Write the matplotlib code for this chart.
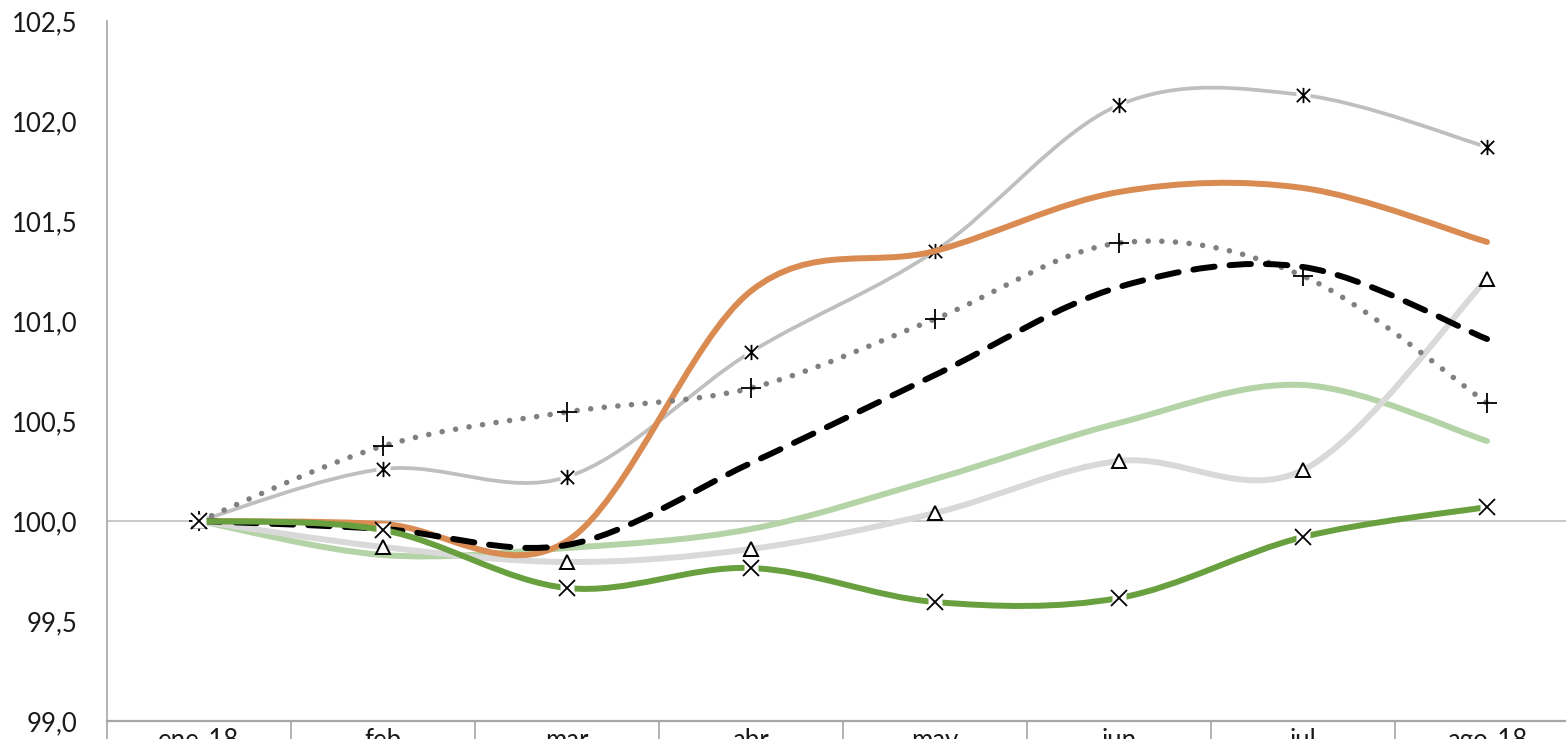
import numpy as np
import matplotlib.pyplot as plt
from matplotlib.path import Path
from matplotlib.patches import PathPatch

plt.rcParams['font.family'] = ['Lato', 'DejaVu Sans']

# datos (indice base ene-18 = 100)
meses = ['ene-18', 'feb', 'mar', 'abr', 'may', 'jun', 'jul', 'ago-18']
serie_asterisco = [100.0, 100.26, 100.22, 100.845, 101.35, 102.08, 102.13, 101.87]
serie_naranja = [100.0, 99.985, 99.9, 101.15, 101.35, 101.645, 101.665, 101.395]
serie_punteada = [100.0, 100.375, 100.545, 100.665, 101.01, 101.39, 101.225, 100.59]
serie_discontinua = [100.0, 99.96, 99.88, 100.29, 100.73, 101.17, 101.27, 100.91]
serie_verde_claro = [100.0, 99.83, 99.865, 99.96, 100.21, 100.49, 100.68, 100.4]
serie_triangulo = [100.0, 99.87, 99.795, 99.86, 100.04, 100.3, 100.255, 101.21]
serie_verde = [100.0, 99.955, 99.665, 99.765, 99.595, 99.615, 99.92, 100.07]

yticks = [99.0, 99.5, 100.0, 100.5, 101.0, 101.5, 102.0, 102.5]
ytick_labels = [f'{v:.1f}'.replace('.', ',') for v in yticks]


def curva(ax, valores, **kw):
    # curva suavizada tipo Excel (Bezier por Catmull-Rom)
    pts = np.column_stack([np.arange(len(valores), dtype=float), np.asarray(valores, dtype=float)])
    n = len(pts)
    verts = [pts[0]]
    codes = [Path.MOVETO]
    for i in range(n - 1):
        p0 = pts[max(i - 1, 0)]
        p1 = pts[i]
        p2 = pts[i + 1]
        p3 = pts[min(i + 2, n - 1)]
        verts += [p1 + (p2 - p0) / 6, p2 - (p3 - p1) / 6, p2]
        codes += [Path.CURVE4] * 3
    ax.add_patch(PathPatch(Path(verts, codes), fill=False, capstyle='round', joinstyle='round', **kw))


def marcas(ax, valores, marker, z, fondo=True, **kw):
    x = np.arange(len(valores))
    if fondo:
        ax.plot(x, valores, ls='none', marker='s', ms=10, mfc='white', mec='none', zorder=z)
    ax.plot(x, valores, ls='none', marker=marker, mec='black', zorder=z + 0.1, **kw)


asterisco = Path([(-1, -1), (1, 1), (-1, 1), (1, -1), (0, -1.15), (0, 1.15)],
                 [Path.MOVETO, Path.LINETO, Path.MOVETO, Path.LINETO, Path.MOVETO, Path.LINETO])

fig = plt.figure(figsize=(15.66, 7.39), dpi=100)
ax = fig.add_axes([107 / 1566, 18 / 739, 1472 / 1566, 700 / 739])

ax.axhline(100, color='#BFBFBF', lw=1.2, zorder=1)

curva(ax, serie_verde_claro, edgecolor='#B4D3A6', lw=4.3, zorder=2)

curva(ax, serie_triangulo, edgecolor='#D9D9D9', lw=4.3, zorder=3)
marcas(ax, serie_triangulo, '^', 3.5, fondo=False, ms=10, mfc='white', mew=1.4)

curva(ax, serie_asterisco, edgecolor='#BFBFBF', lw=2.7, zorder=4)
marcas(ax, serie_asterisco, asterisco, 4.5, ms=11, mfc='none', mew=1.3)

curva(ax, serie_naranja, edgecolor='#D98B52', lw=4.3, zorder=5)

curva(ax, serie_punteada, edgecolor='#808080', lw=4.0, linestyle=(0, (0.01, 2.45)), zorder=6)
marcas(ax, serie_punteada, '+', 6.5, fondo=False, ms=14, mew=1.3)

curva(ax, serie_discontinua, edgecolor='black', lw=4.3, linestyle=(0, (3.6, 2.5)), zorder=7)

curva(ax, serie_verde, edgecolor='#69A03F', lw=4.3, zorder=8)
marcas(ax, serie_verde, 'x', 8.5, ms=11, mew=1.3)

ax.set_xlim(-0.5, 7.5)
ax.set_ylim(99.0, 102.5)

ax.set_yticks(yticks)
ax.set_yticklabels(ytick_labels, fontsize=18.5, color='#1a1a1a')
ax.tick_params(axis='y', length=0, pad=21)

ax.set_xticks(range(len(meses)))
ax.set_xticklabels(meses, fontsize=18.5, color='#1a1a1a')
ax.set_xticks(np.arange(-0.5, len(meses), 1), minor=True)
ax.tick_params(axis='x', which='major', length=0, pad=5)
ax.tick_params(axis='x', which='minor', length=25, width=1.2, color='#A6A6A6', direction='out')

for lado in ['top', 'right']:
    ax.spines[lado].set_visible(False)
ax.spines['left'].set_color('#A6A6A6')
ax.spines['left'].set_linewidth(1.2)
ax.spines['bottom'].set_color('#A6A6A6')
ax.spines['bottom'].set_linewidth(1.6)

fig.savefig('out.png', dpi=100)
